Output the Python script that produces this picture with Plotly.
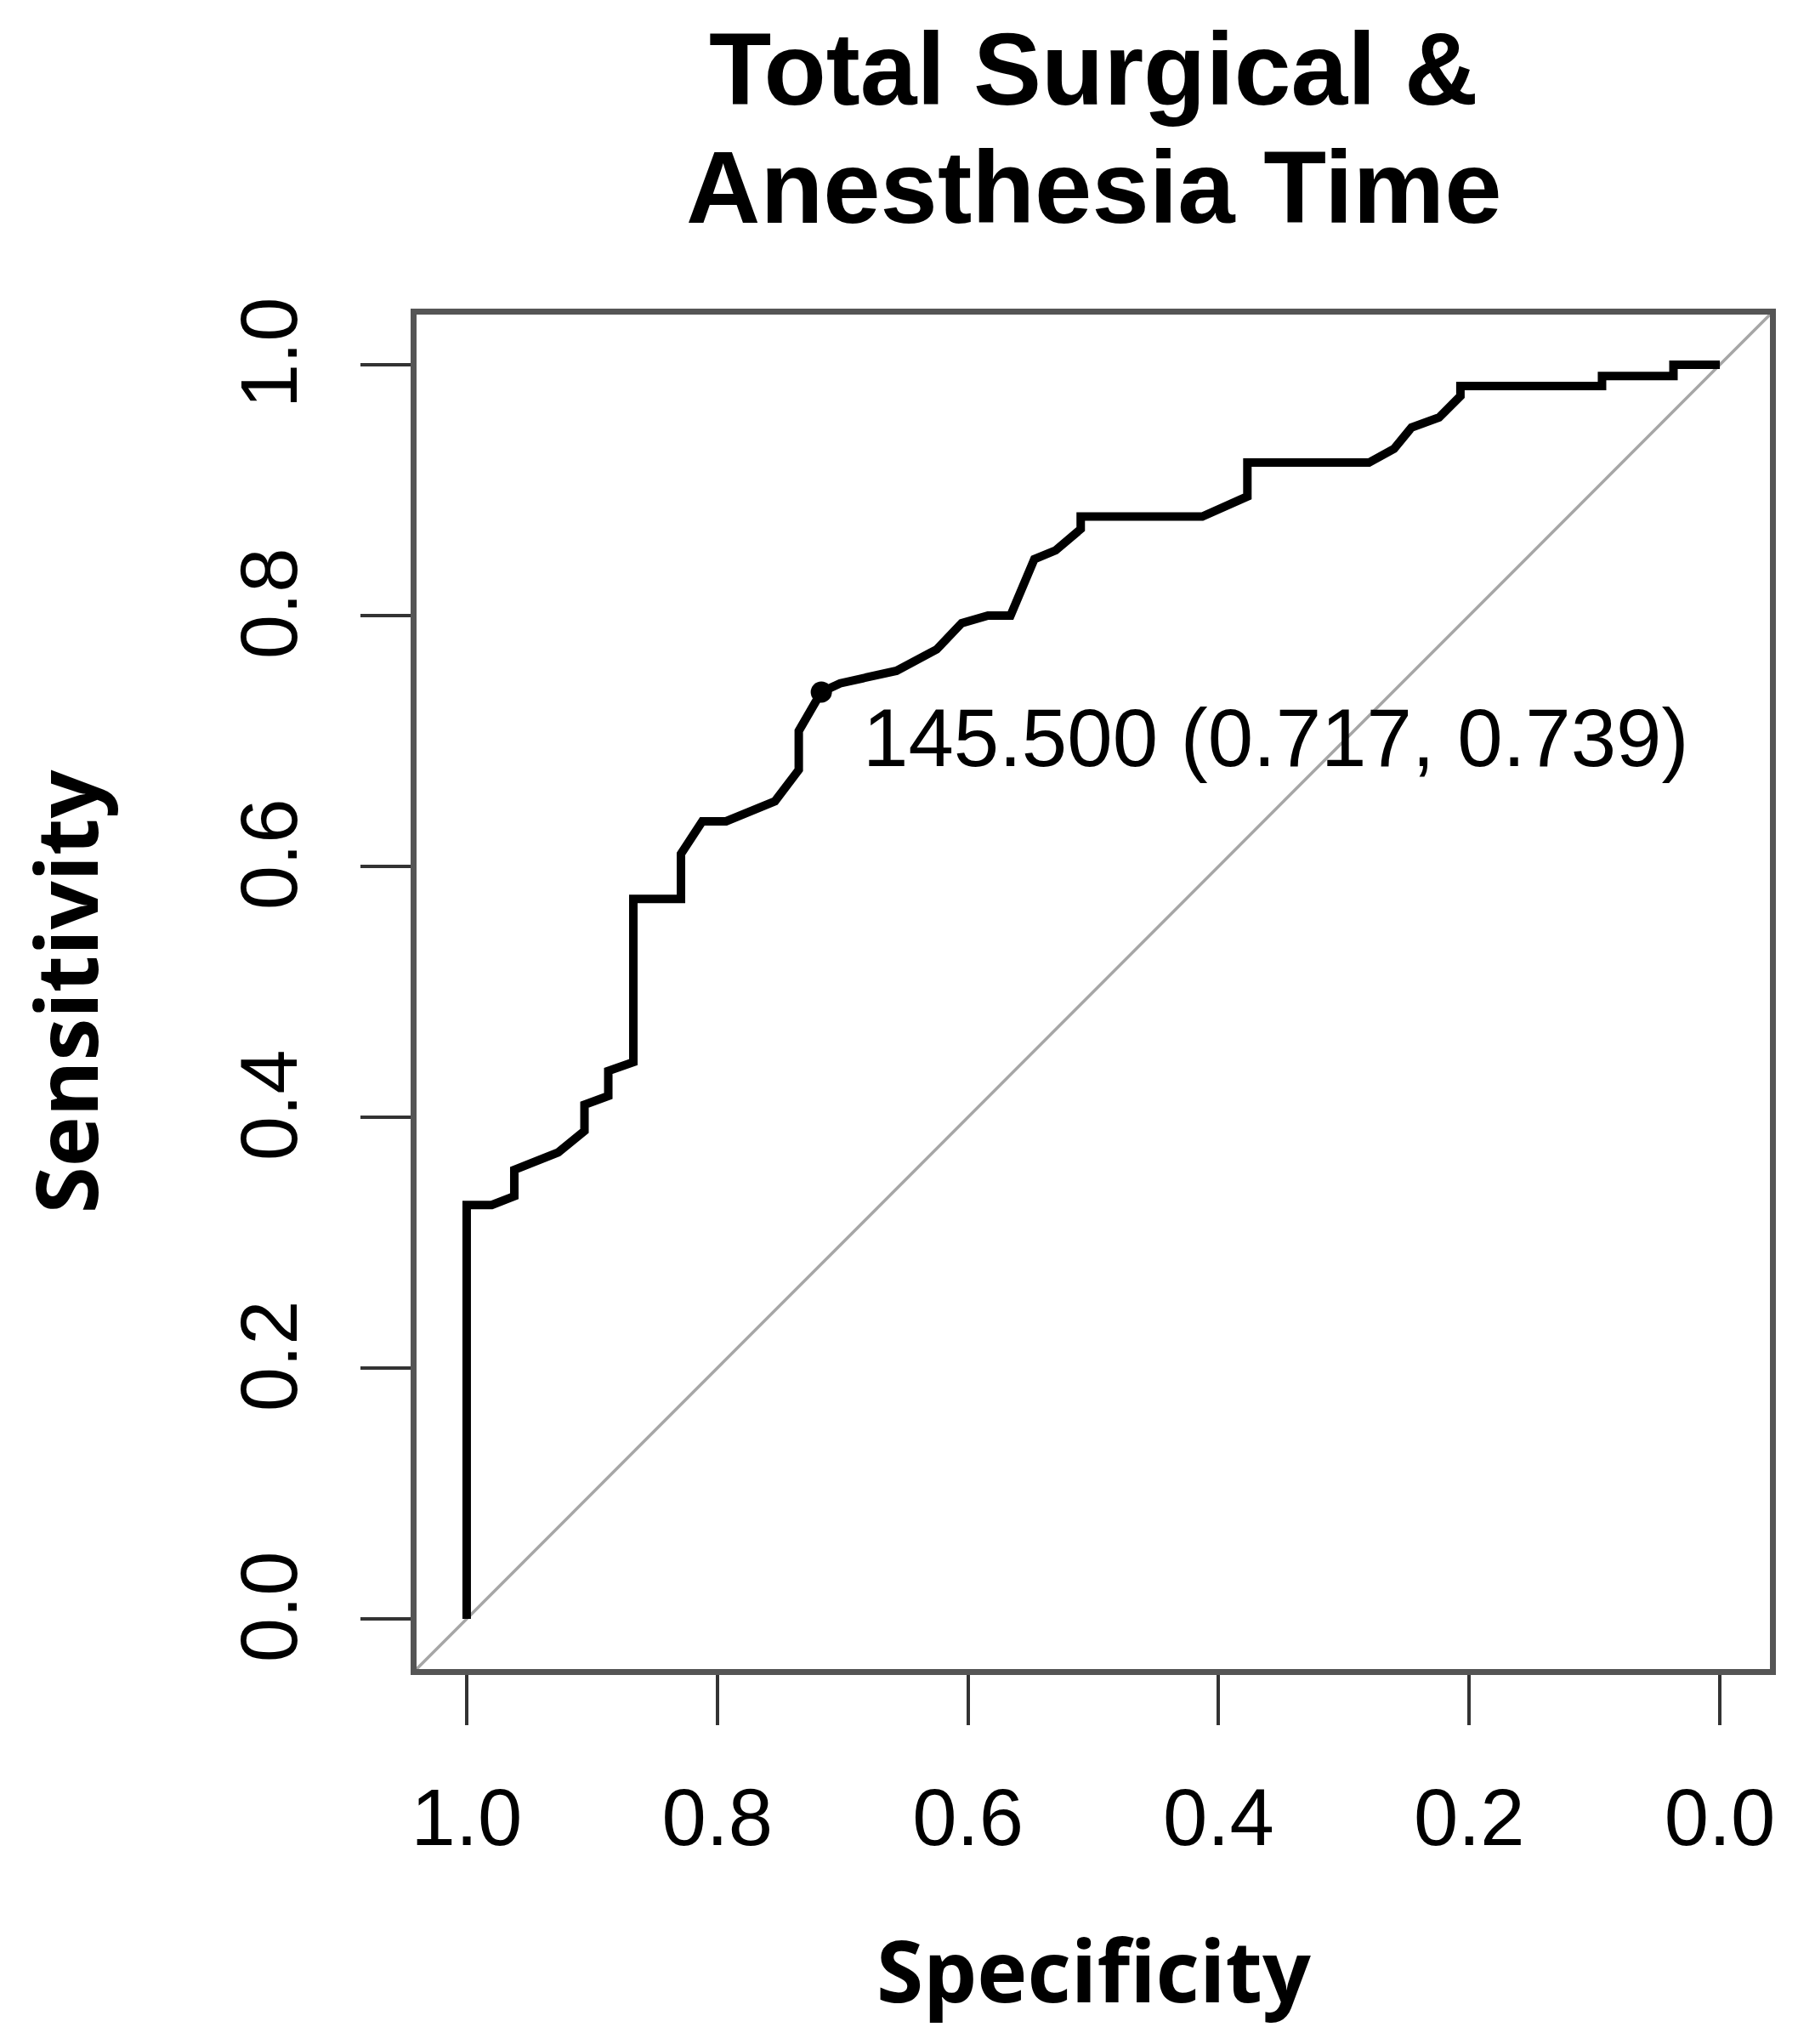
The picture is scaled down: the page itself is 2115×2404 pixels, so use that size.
import plotly.graph_objects as go

# ROC curve
SPECIFICITY = [1.000, 1.000, 0.980, 0.962, 0.962, 0.927, 0.906, 0.906, 0.887, 0.887,
               0.867, 0.867, 0.829, 0.829, 0.812, 0.793, 0.754, 0.735, 0.735, 0.717,
               0.702, 0.657, 0.625, 0.605, 0.584, 0.566, 0.547, 0.530, 0.510, 0.510,
               0.413, 0.377, 0.377, 0.280, 0.260, 0.246, 0.224, 0.207, 0.207, 0.094,
               0.094, 0.037, 0.037, 0.000]
SENSITIVITY = [0.000, 0.330, 0.330, 0.337, 0.358, 0.372, 0.389, 0.410, 0.417, 0.437,
               0.444, 0.574, 0.574, 0.610, 0.636, 0.636, 0.652, 0.677, 0.708, 0.739,
               0.746, 0.756, 0.773, 0.794, 0.800, 0.800, 0.845, 0.852, 0.869, 0.879,
               0.879, 0.895, 0.922, 0.922, 0.933, 0.950, 0.958, 0.975, 0.983, 0.983,
               0.991, 0.991, 1.000, 1.000]

BEST_THRESHOLD = 145.5
BEST_SPEC = 0.717
BEST_SENS = 0.739

TICK_VALUES = [1.0, 0.8, 0.6, 0.4, 0.2, 0.0]
TICK_LABELS = ["1.0", "0.8", "0.6", "0.4", "0.2", "0.0"]

TITLE_LINES = ["Total Surgical &", "Anesthesia Time"]
X_TITLE = "Specificity"
Y_TITLE = "Sensitivity"

ARIAL = "Liberation Sans, Arial, sans-serif"
LABEL_FONT = "Open Sans, Noto Sans, sans-serif"

fig = go.Figure()

# chance diagonal (corner to corner of the symmetric ranges)
fig.add_shape(type="line", xref="paper", yref="paper", x0=0, y0=0, x1=1, y1=1,
              line=dict(color="#a6a6a6", width=3.5), layer="below")

fig.add_trace(go.Scatter(
    x=SPECIFICITY, y=SENSITIVITY, mode="lines",
    line=dict(color="black", width=10),
    hoverinfo="skip", showlegend=False))

fig.add_trace(go.Scatter(
    x=[BEST_SPEC], y=[BEST_SENS], mode="markers",
    marker=dict(color="black", size=25),
    hoverinfo="skip", showlegend=False))

fig.add_annotation(
    x=0.685, y=0.703, xref="x", yref="y",
    text=f"{BEST_THRESHOLD:.3f} ({BEST_SPEC:.3f}, {BEST_SENS:.3f})",
    showarrow=False, xanchor="left", yanchor="middle",
    font=dict(family=ARIAL, size=96, color="black"))

# title lines
fig.add_annotation(x=0.5, y=1.1810, xref="paper", yref="paper", text=TITLE_LINES[0],
                   showarrow=False, xanchor="center", yanchor="middle",
                   font=dict(family=ARIAL, size=120, color="black", weight="bold"))
fig.add_annotation(x=0.5, y=1.0942, xref="paper", yref="paper", text=TITLE_LINES[1],
                   showarrow=False, xanchor="center", yanchor="middle",
                   font=dict(family=ARIAL, size=121, color="black", weight="bold"))

# x axis title
fig.add_annotation(x=0.5, y=-0.2214, xref="paper", yref="paper", text=X_TITLE,
                   showarrow=False, xanchor="center", yanchor="middle",
                   font=dict(family=LABEL_FONT, size=100, color="black", weight="bold"))

axis_common = dict(
    tickmode="array", tickvals=TICK_VALUES, ticktext=TICK_LABELS,
    ticks="outside", ticklen=59, tickwidth=4, tickcolor="#333333",
    showline=True, mirror=True, linecolor="#555555", linewidth=7,
    showgrid=False, zeroline=False,
    tickfont=dict(family=ARIAL, size=94, color="black"),
)

fig.update_xaxes(**axis_common)
fig.update_yaxes(**axis_common)
fig.update_xaxes(range=[1.04, -0.04], ticklabelstandoff=28)
fig.update_yaxes(range=[-0.04, 1.04], tickangle=-90, ticklabelstandoff=37,
                 title=dict(text=Y_TITLE, standoff=130,
                            font=dict(family=LABEL_FONT, size=100, color="black",
                                      weight="bold")))

fig.update_layout(
    width=2115, height=2404,
    margin=dict(l=482, r=41, t=362, b=449, pad=0),
    plot_bgcolor="white", paper_bgcolor="white",
    showlegend=False,
)

fig.write_html("out.html")
